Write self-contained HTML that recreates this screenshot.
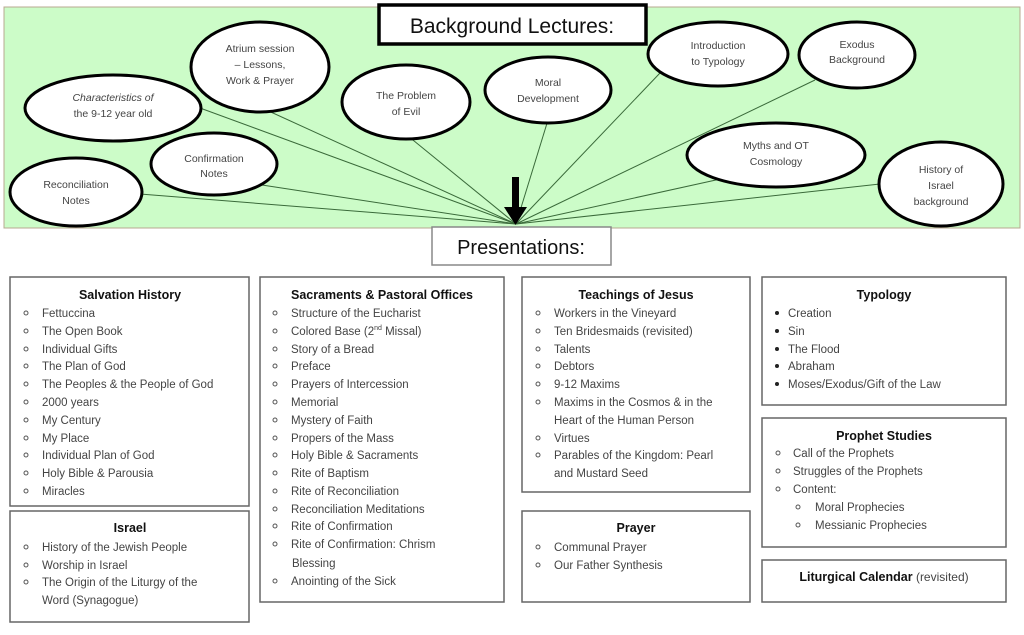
<!DOCTYPE html>
<html><head><meta charset="utf-8"><style>
html,body{margin:0;padding:0;background:#fff;}
svg{display:block;}
text{font-family:"Liberation Sans",sans-serif;}
.e{fill:#fff;stroke:#000;stroke-width:3;}
.et{font-size:10.5px;fill:#444;text-anchor:middle;}
.b{fill:#fff;stroke:#666;stroke-width:1.5;}
.h{font-size:12.5px;font-weight:bold;fill:#111;text-anchor:middle;}
.t{font-size:11.5px;fill:#444;}
.o{fill:none;stroke:#555;stroke-width:1;}
</style></head><body>
<svg width="1024" height="635" viewBox="0 0 1024 635">
<rect x="4" y="7" width="1016" height="221" fill="#ccfcc8" stroke="#b8a890" stroke-width="1"/>
<g stroke="#3a6a3a" stroke-width="1">
<line x1="200" y1="108" x2="516" y2="224"/>
<line x1="262" y1="108" x2="516" y2="224"/>
<line x1="408" y1="136" x2="516" y2="224"/>
<line x1="548" y1="120" x2="516" y2="224"/>
<line x1="660" y1="73" x2="516" y2="224"/>
<line x1="815" y1="80" x2="516" y2="224"/>
<line x1="725" y1="178" x2="516" y2="224"/>
<line x1="880" y1="184" x2="516" y2="224"/>
<line x1="262" y1="185" x2="516" y2="224"/>
<line x1="140" y1="194" x2="516" y2="224"/>
</g>
<ellipse class="e" cx="113" cy="108" rx="88" ry="33"/>
<text class="et" x="113" y="101"><tspan font-style="italic">Characteristics of</tspan><tspan x="113" dy="16">the 9-12 year old</tspan></text>
<ellipse class="e" cx="260" cy="67" rx="69" ry="45"/>
<text class="et" x="260" y="52">Atrium session<tspan x="260" dy="16">– Lessons,</tspan><tspan x="260" dy="16">Work &amp; Prayer</tspan></text>
<ellipse class="e" cx="406" cy="102" rx="64" ry="37"/>
<text class="et" x="406" y="99">The Problem<tspan x="406" dy="16">of Evil</tspan></text>
<ellipse class="e" cx="548" cy="90" rx="63" ry="33"/>
<text class="et" x="548" y="86">Moral<tspan x="548" dy="16">Development</tspan></text>
<ellipse class="e" cx="718" cy="54" rx="70" ry="32"/>
<text class="et" x="718" y="49">Introduction<tspan x="718" dy="16">to Typology</tspan></text>
<ellipse class="e" cx="857" cy="55" rx="58" ry="33"/>
<text class="et" x="857" y="48">Exodus<tspan x="857" dy="15">Background</tspan></text>
<ellipse class="e" cx="776" cy="155" rx="89" ry="32"/>
<text class="et" x="776" y="149">Myths and OT<tspan x="776" dy="16">Cosmology</tspan></text>
<ellipse class="e" cx="941" cy="184" rx="62" ry="42"/>
<text class="et" x="941" y="173">History of<tspan x="941" dy="16">Israel</tspan><tspan x="941" dy="16">background</tspan></text>
<ellipse class="e" cx="214" cy="164" rx="63" ry="31"/>
<text class="et" x="214" y="162">Confirmation<tspan x="214" dy="15">Notes</tspan></text>
<ellipse class="e" cx="76" cy="192" rx="66" ry="34"/>
<text class="et" x="76" y="188">Reconciliation<tspan x="76" dy="16">Notes</tspan></text>
<rect x="379" y="5" width="267" height="39" fill="#fff" stroke="#000" stroke-width="3.5"/>
<text x="512" y="33" font-size="21" text-anchor="middle" fill="#111">Background Lectures:</text>
<rect x="512" y="177" width="7" height="32" fill="#000"/>
<polygon points="504,207 527,207 515.5,225" fill="#000"/>
<rect x="432" y="227" width="179" height="38" fill="#fff" stroke="#888" stroke-width="1.5"/>
<text x="521" y="254" font-size="20" text-anchor="middle" fill="#111">Presentations:</text>

<rect class="b" x="10" y="277" width="239" height="229"/>
<text class="h" x="130" y="299">Salvation History</text>
<g class="t">
<text x="42" y="317">Fettuccina</text><text x="42" y="335">The Open Book</text><text x="42" y="353">Individual Gifts</text><text x="42" y="370">The Plan of God</text><text x="42" y="388">The Peoples &amp; the People of God</text><text x="42" y="406">2000 years</text><text x="42" y="424">My Century</text><text x="42" y="442">My Place</text><text x="42" y="459">Individual Plan of God</text><text x="42" y="477">Holy Bible &amp; Parousia</text><text x="42" y="495">Miracles</text>
</g>
<g class="o"><circle cx="26" cy="313" r="2"/><circle cx="26" cy="331" r="2"/><circle cx="26" cy="349" r="2"/><circle cx="26" cy="366" r="2"/><circle cx="26" cy="384" r="2"/><circle cx="26" cy="402" r="2"/><circle cx="26" cy="420" r="2"/><circle cx="26" cy="438" r="2"/><circle cx="26" cy="455" r="2"/><circle cx="26" cy="473" r="2"/><circle cx="26" cy="491" r="2"/></g>

<rect class="b" x="10" y="511" width="239" height="111"/>
<text class="h" x="130" y="532">Israel</text>
<g class="t"><text x="42" y="551">History of the Jewish People</text><text x="42" y="569">Worship in Israel</text><text x="42" y="586">The Origin of the Liturgy of the</text><text x="42" y="604">Word (Synagogue)</text></g>
<g class="o"><circle cx="26" cy="547" r="2"/><circle cx="26" cy="565" r="2"/><circle cx="26" cy="582" r="2"/></g>

<rect class="b" x="260" y="277" width="244" height="325"/>
<text class="h" x="382" y="299">Sacraments &amp; Pastoral Offices</text>
<g class="t">
<text x="291" y="317">Structure of the Eucharist</text><text x="291" y="335">Colored Base (2<tspan font-size="7" dy="-5">nd</tspan><tspan dy="5"> Missal)</tspan></text><text x="291" y="353">Story of a Bread</text><text x="291" y="370">Preface</text><text x="291" y="388">Prayers of Intercession</text><text x="291" y="406">Memorial</text><text x="291" y="424">Mystery of Faith</text><text x="291" y="442">Propers of the Mass</text><text x="291" y="459">Holy Bible &amp; Sacraments</text><text x="291" y="477">Rite of Baptism</text><text x="291" y="495">Rite of Reconciliation</text><text x="291" y="513">Reconciliation Meditations</text><text x="291" y="530">Rite of Confirmation</text><text x="291" y="548">Rite of Confirmation: Chrism</text><text x="292" y="567">Blessing</text><text x="291" y="585">Anointing of the Sick</text>
</g>
<g class="o"><circle cx="275" cy="313" r="2"/><circle cx="275" cy="331" r="2"/><circle cx="275" cy="349" r="2"/><circle cx="275" cy="366" r="2"/><circle cx="275" cy="384" r="2"/><circle cx="275" cy="402" r="2"/><circle cx="275" cy="420" r="2"/><circle cx="275" cy="438" r="2"/><circle cx="275" cy="455" r="2"/><circle cx="275" cy="473" r="2"/><circle cx="275" cy="491" r="2"/><circle cx="275" cy="509" r="2"/><circle cx="275" cy="526" r="2"/><circle cx="275" cy="544" r="2"/><circle cx="275" cy="581" r="2"/></g>

<rect class="b" x="522" y="277" width="228" height="215"/>
<text class="h" x="636" y="299">Teachings of Jesus</text>
<g class="t">
<text x="554" y="317">Workers in the Vineyard</text><text x="554" y="335">Ten Bridesmaids (revisited)</text><text x="554" y="353">Talents</text><text x="554" y="370">Debtors</text><text x="554" y="388">9-12 Maxims</text><text x="554" y="406">Maxims in the Cosmos &amp; in the</text><text x="554" y="424">Heart of the Human Person</text><text x="554" y="442">Virtues</text><text x="554" y="459">Parables of the Kingdom: Pearl</text><text x="554" y="477">and Mustard Seed</text>
</g>
<g class="o"><circle cx="538" cy="313" r="2"/><circle cx="538" cy="331" r="2"/><circle cx="538" cy="349" r="2"/><circle cx="538" cy="366" r="2"/><circle cx="538" cy="384" r="2"/><circle cx="538" cy="402" r="2"/><circle cx="538" cy="438" r="2"/><circle cx="538" cy="455" r="2"/></g>

<rect class="b" x="522" y="511" width="228" height="91"/>
<text class="h" x="636" y="532">Prayer</text>
<g class="t"><text x="554" y="551">Communal Prayer</text><text x="554" y="569">Our Father Synthesis</text></g>
<g class="o"><circle cx="538" cy="547" r="2"/><circle cx="538" cy="565" r="2"/></g>

<rect class="b" x="762" y="277" width="244" height="128"/>
<text class="h" x="884" y="299">Typology</text>
<g class="t"><text x="788" y="317">Creation</text><text x="788" y="335">Sin</text><text x="788" y="353">The Flood</text><text x="788" y="370">Abraham</text><text x="788" y="388">Moses/Exodus/Gift of the Law</text></g>
<g fill="#222"><circle cx="777" cy="313" r="2"/><circle cx="777" cy="331" r="2"/><circle cx="777" cy="349" r="2"/><circle cx="777" cy="366" r="2"/><circle cx="777" cy="384" r="2"/></g>

<rect class="b" x="762" y="418" width="244" height="129"/>
<text class="h" x="884" y="440">Prophet Studies</text>
<g class="t"><text x="793" y="457">Call of the Prophets</text><text x="793" y="475">Struggles of the Prophets</text><text x="793" y="493">Content:</text><text x="815" y="511">Moral Prophecies</text><text x="815" y="529">Messianic Prophecies</text></g>
<g class="o"><circle cx="778" cy="453" r="2"/><circle cx="778" cy="471" r="2"/><circle cx="778" cy="489" r="2"/><circle cx="798" cy="507" r="2"/><circle cx="798" cy="525" r="2"/></g>

<rect class="b" x="762" y="560" width="244" height="42"/>
<text x="884" y="581" text-anchor="middle"><tspan font-size="12.5" font-weight="bold" fill="#111">Liturgical Calendar</tspan><tspan font-size="12" fill="#444"> (revisited)</tspan></text>
</svg>
</body></html>
